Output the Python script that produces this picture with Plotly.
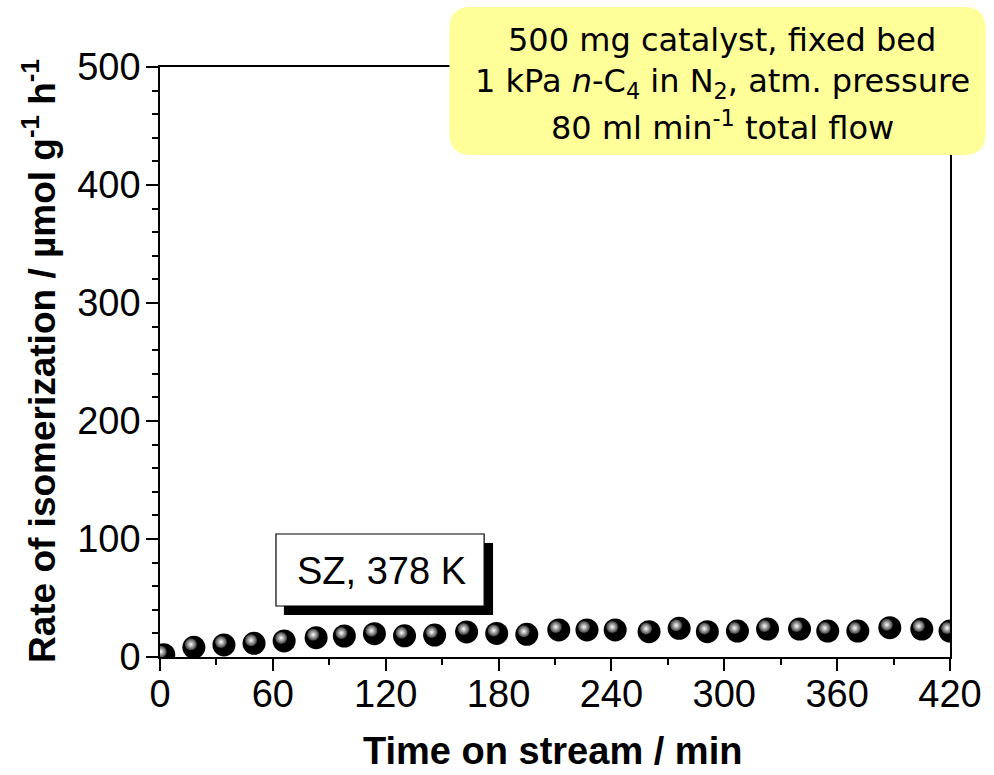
import plotly.graph_objects as go

# n-butane isomerization rate over sulfated zirconia vs. time on stream
time_min = [2, 18, 34, 50, 66, 83, 98, 114, 130, 146, 163, 179, 195,
            212, 227, 242, 260, 276, 291, 307, 323, 340, 355, 371, 388, 405, 420]
rate = [2.0, 8.2, 10.2, 11.6, 13.6, 16.4, 17.8, 19.8, 18.0, 18.6, 21.2, 20.0, 19.2,
        22.9, 22.9, 22.9, 21.5, 24.3, 21.5, 22.0, 23.7, 23.7, 22.0, 22.0, 24.8, 23.7, 22.0]

x_ticks = [0, 60, 120, 180, 240, 300, 360, 420]
y_ticks = [0, 100, 200, 300, 400, 500]
x_range = [0, 420]
y_range = [0, 500]

# page geometry
W, H = 994, 775
L, R, T, B = 160, 37, 67, 118
PW, PH = W - L - R, H - T - B


def px(x):
    return (x - L) / PW


def py(y):
    return (H - B - y) / PH


# highlight offset on each sphere (pixels: left, up)
hl_dx, hl_dy = 3, 3
x_per_px = (x_range[1] - x_range[0]) / PW
y_per_px = (y_range[1] - y_range[0]) / PH

fig = go.Figure()

# dark spheres
fig.add_trace(go.Scatter(
    x=time_min, y=rate, mode="markers",
    marker=dict(size=23, color="black", line=dict(width=0)),
    showlegend=False, hoverinfo="skip",
))
# specular highlight, drawn on a slightly shifted overlay axis pair
fig.add_trace(go.Scatter(
    x=time_min, y=rate, mode="markers", xaxis="x2", yaxis="y2",
    marker=dict(size=12, color="#3a3a3a", line=dict(width=0),
                gradient=dict(type="radial", color="white")),
    showlegend=False, hoverinfo="skip",
))

axis_font = dict(family="Liberation Sans, Arial, sans-serif", size=38, color="black")

fig.update_layout(
    width=W, height=H,
    margin=dict(l=L, r=R, t=T, b=B, pad=0),
    paper_bgcolor="white", plot_bgcolor="white",
    showlegend=False,
    xaxis=dict(
        range=x_range, tickmode="array", tickvals=x_ticks,
        ticks="outside", ticklen=12, tickwidth=1.5, tickcolor="black",
        minor=dict(dtick=30, tick0=0, ticks="outside", ticklen=6,
                   tickwidth=1.5, tickcolor="black"),
        showline=True, linewidth=1.5, linecolor="black", mirror=True,
        showgrid=False, zeroline=False, tickfont=axis_font,
        ticklabelstandoff=-9,
    ),
    yaxis=dict(
        range=y_range, tickmode="array", tickvals=y_ticks,
        ticks="outside", ticklen=12, tickwidth=1.5, tickcolor="black",
        minor=dict(dtick=20, tick0=0, ticks="outside", ticklen=6,
                   tickwidth=1.5, tickcolor="black"),
        showline=True, linewidth=1.5, linecolor="black", mirror=True,
        showgrid=False, zeroline=False, tickfont=axis_font,
        ticklabelstandoff=-2,
    ),
    xaxis2=dict(
        overlaying="x", anchor="y2", visible=False,
        range=[x_range[0] + hl_dx * x_per_px, x_range[1] + hl_dx * x_per_px],
    ),
    yaxis2=dict(
        overlaying="y", anchor="x2", visible=False,
        range=[y_range[0] - hl_dy * y_per_px, y_range[1] - hl_dy * y_per_px],
    ),
)

# rounded yellow info box
x0, x1, yt, yb, rr = 452, 993, 7, 155, 22
X0, X1, YT, YB = px(x0), px(x1), py(yt), py(yb)
rx, ry = rr / PW, rr / PH
box_path = (
    f"M {X0 + rx},{YT} L {X1 - rx},{YT} Q {X1},{YT} {X1},{YT - ry} "
    f"L {X1},{YB + ry} Q {X1},{YB} {X1 - rx},{YB} "
    f"L {X0 + rx},{YB} Q {X0},{YB} {X0},{YB + ry} "
    f"L {X0},{YT - ry} Q {X0},{YT} {X0 + rx},{YT} Z"
)
fig.add_shape(type="path", path=box_path, xref="paper", yref="paper",
              fillcolor="#ffff99", line=dict(width=0), layer="above")

info_font = dict(family="DejaVu Sans, Verdana, sans-serif", size=32, color="black")
info_lines = [
    ("500 mg catalyst, fixed bed", 40),
    ("1 kPa <i>n</i>-C<sub>4</sub> in N<sub>2</sub>, atm. pressure", 83),
    ("80 ml min<sup>-1</sup> total flow", 126),
]
for txt, yc in info_lines:
    fig.add_annotation(text=txt, xref="paper", yref="paper",
                       x=px(727), y=py(yc), xanchor="center", yanchor="middle",
                       showarrow=False, font=info_font)

# sample label with drop shadow
fig.add_shape(type="rect", xref="paper", yref="paper",
              x0=px(285), x1=px(496), y0=py(615), y1=py(543),
              fillcolor="black", line=dict(width=0), layer="above")
fig.add_shape(type="rect", xref="paper", yref="paper",
              x0=px(277), x1=px(487), y0=py(606), y1=py(534),
              fillcolor="white", line=dict(width=1.2, color="black"), layer="above")
fig.add_annotation(text="SZ, 378 K", xref="paper", yref="paper",
                   x=px(383), y=py(571), xanchor="center", yanchor="middle",
                   showarrow=False,
                   font=dict(family="Liberation Sans, Arial, sans-serif", size=38, color="black"))

# axis titles
fig.add_annotation(text="<b>Time on stream / min</b>", xref="paper", yref="paper",
                   x=px(556), y=py(751), xanchor="center", yanchor="middle",
                   showarrow=False,
                   font=dict(family="Liberation Sans, Arial, sans-serif", size=38, color="black"))
fig.add_annotation(text="<b>Rate of isomerization / µmol g<sup>-1</sup> h<sup>-1</sup></b>",
                   xref="paper", yref="paper", textangle=-90,
                   x=px(38), y=py(361), xanchor="center", yanchor="middle",
                   showarrow=False,
                   font=dict(family="Liberation Sans, Arial, sans-serif", size=37, color="black"))

fig.write_html("out.html")
